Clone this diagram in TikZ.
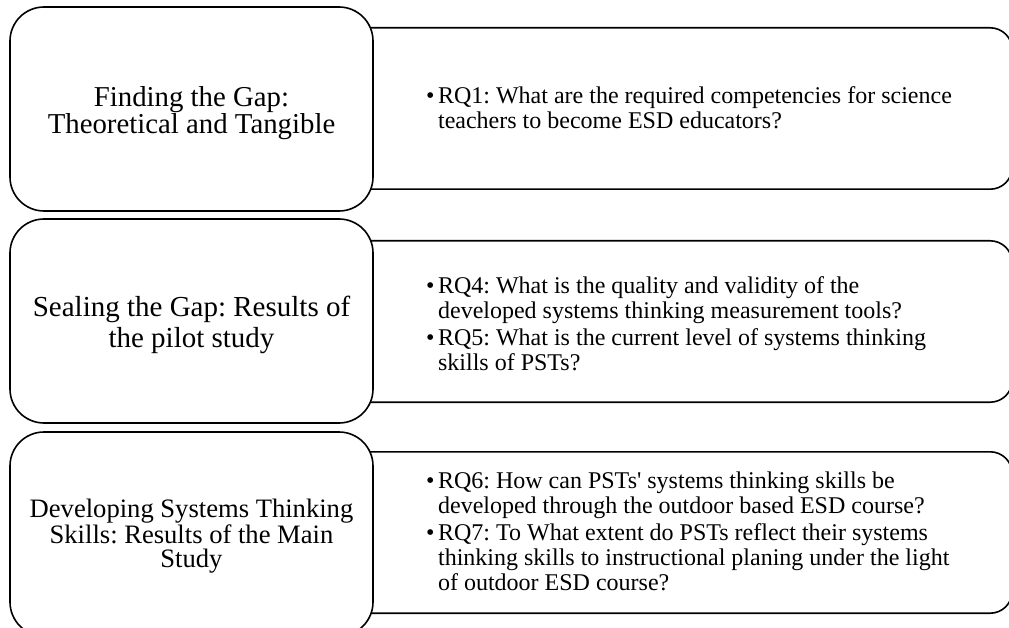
\documentclass[tikz,border=0pt]{standalone}
\usepackage{fontspec}
\setmainfont{Liberation Serif}
\frenchspacing
\newcommand{\rqlist}[1]{{\renewcommand{\arraystretch}{1}%
  \begin{tabular}{@{}l@{\hspace{3.5pt}}l@{}}#1\end{tabular}}}
\begin{document}
\begin{tikzpicture}[x=1pt,y=1pt,
  stagebox/.style={draw=black, line width=1.6pt, fill=white, rounded corners=34pt,
    minimum width=363pt, minimum height=204pt, inner sep=0pt},
  stagetext/.style={inner sep=0pt, align=center},
  qarea/.style={draw=none, minimum width=639pt, minimum height=161pt, inner sep=0pt},
  qframe/.style={draw=black, line width=1.6pt, rounded corners=22pt},
  qtext/.style={anchor=west, inner sep=0pt, align=left,
    font=\fontsize{24}{25}\selectfont}]
\useasboundingbox (0,0) rectangle (1009,-628);
\clip (0,0) rectangle (1009,-628);

% question panels (drawn first, the stage boxes overlap their left ends)
\node[qarea] (r1) at (692.5,-108.5) {};
\node[qarea] (r2) at (692.5,-321.5) {};
\node[qarea] (r3) at (692.5,-532.5) {};
\foreach \r in {r1,r2,r3}
  \draw[qframe] ([xshift=-40pt]\r.north west) -- (\r.north east)
    -- (\r.south east) -- ([xshift=-40pt]\r.south west);

\node[qtext] (q1) at (426,-111.5) {\rqlist{%
  \textbullet & RQ1: What are the required competencies for science\\
  & teachers to become ESD educators?}};
\node[qtext] (q2) at (426,-327) {\rqlist{%
  \textbullet & RQ4: What is the quality and validity of the\\
  & developed systems thinking measurement tools?\\[2pt]
  \textbullet & RQ5: What is the current level of systems thinking\\
  & skills of PSTs?}};
\node[qtext] (q3) at (426,-534) {\rqlist{%
  \textbullet & RQ6: How can PSTs\textquotesingle\ systems thinking skills be\\
  & developed through the outdoor based ESD course?\\[2pt]
  \textbullet & RQ7: To What extent do PSTs reflect their systems\\
  & thinking skills to instructional planing under the light\\
  & of outdoor ESD course?}};

% stage boxes
\node[stagebox] (s1) at (191.5,-109) {};
\node[stagebox] (s2) at (191.5,-321) {};
\node[stagebox] (s3) at (191.5,-534) {};
\node[stagetext, font=\fontsize{28.8}{24.5}\selectfont] (t1)
  at ([yshift=-4pt]s1.center) {Finding the Gap:\\Theoretical and Tangible};
\node[stagetext, font=\fontsize{29}{31.5}\selectfont] (t2)
  at ([yshift=-4pt]s2.center) {Sealing the Gap: Results of\\the pilot study};
\node[stagetext, font=\fontsize{26.6}{24}\selectfont] (t3)
  at ([yshift=-2pt]s3.center)
  {Developing Systems Thinking\\Skills: Results of the Main\\Study};
\end{tikzpicture}
\end{document}
